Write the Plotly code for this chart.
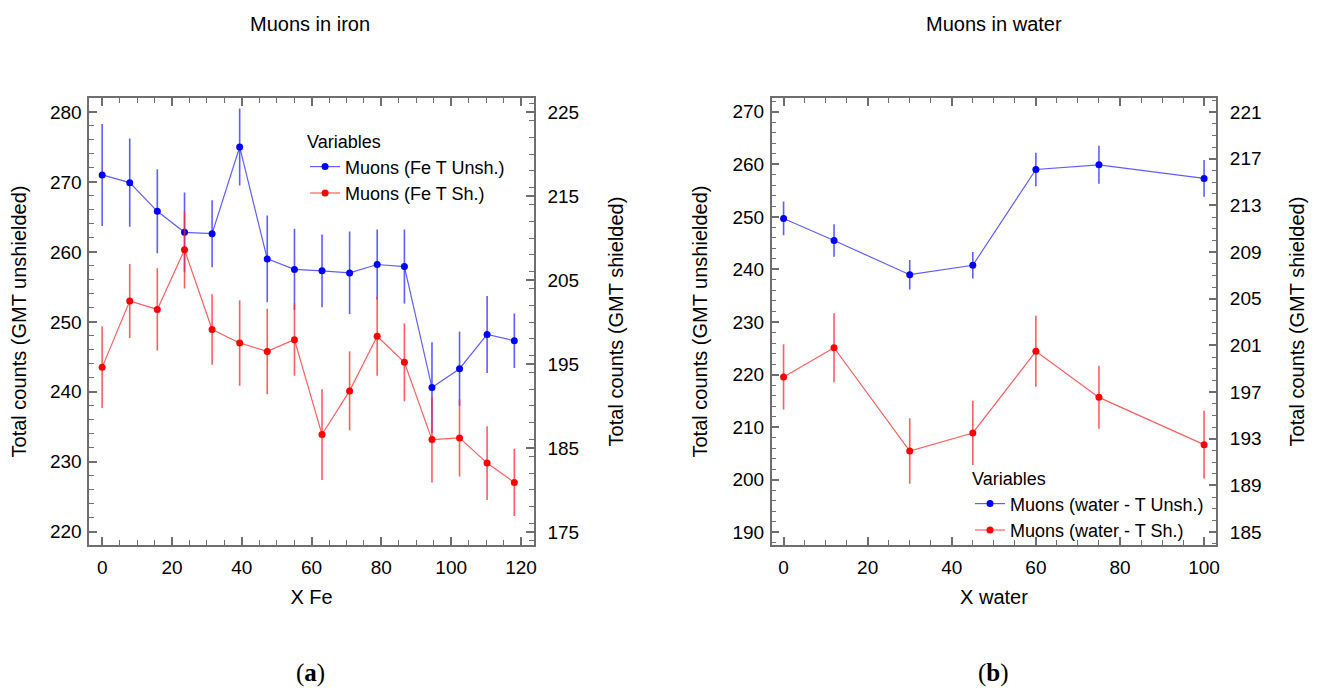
import plotly.graph_objects as go

# ---- data: Muons in iron ----
x_fe = [0, 7.9, 15.8, 23.6, 31.5, 39.4, 47.3, 55.1, 63.0, 70.9, 78.8, 86.6, 94.5, 102.4, 110.3, 118.1]
fe_unsh = [271.0, 269.9, 265.8, 262.8, 262.6, 275.0, 259.0, 257.5, 257.3, 257.0, 258.2, 257.9, 240.6, 243.3, 248.2, 247.3]
fe_unsh_err = [7.3, 6.3, 6.0, 5.7, 4.8, 5.5, 6.2, 5.8, 5.2, 5.9, 5.0, 5.3, 6.5, 5.3, 5.5, 3.9]
fe_sh = [194.6, 202.5, 201.5, 208.6, 199.1, 197.5, 196.5, 197.9, 186.6, 191.8, 198.3, 195.2, 186.0, 186.2, 183.2, 180.9]
fe_sh_err = [4.85, 4.4, 4.9, 4.6, 4.2, 5.1, 5.1, 4.3, 5.4, 4.7, 4.7, 4.65, 5.1, 4.6, 4.4, 4.0]

# ---- data: Muons in water ----
x_water = [0, 12, 30, 45, 60, 75, 100]
w_unsh = [249.7, 245.5, 239.0, 240.8, 259.0, 259.9, 257.3]
w_unsh_err = [3.2, 3.1, 2.8, 2.5, 3.2, 3.6, 3.5]
w_sh = [198.3, 200.8, 191.95, 193.5, 200.5, 196.55, 192.5]
w_sh_err = [2.8, 2.95, 2.8, 2.75, 3.05, 2.7, 2.9]

names = ["Muons (Fe T Unsh.)", "Muons (Fe T Sh.)", "Muons (water - T Unsh.)", "Muons (water - T Sh.)"]
titles = ["Muons in iron", "Muons in water"]
panel_labels = ["(<b>a</b>)", "(<b>b</b>)"]

FONT = "Liberation Sans"
BLUE = "rgb(0,0,255)"
RED = "rgb(255,0,0)"
BLUE_L = "rgba(40,40,255,0.75)"
RED_L = "rgba(255,40,40,0.75)"
AX = "#6e6e6e"

# page has an 8px body margin; figure sized to fit the 1317x695 window
OX, OY = 8, 8
W, H = 1301, 679


def px(x):
    return (x - OX) / W


def py(y):
    return 1 - (y - OY) / H


fig = go.Figure()


def add(x, y, e, name, col, lcol, xa, ya, leg):
    fig.add_trace(go.Scatter(
        x=x, y=y, name=name, mode="lines+markers",
        line=dict(color=lcol, width=1.2),
        marker=dict(color=col, size=7, symbol="circle"),
        error_y=dict(type="data", array=e, visible=True, color=lcol, thickness=1.6, width=0),
        xaxis=xa, yaxis=ya, legend=leg))


add(x_fe, fe_unsh, fe_unsh_err, names[0], BLUE, BLUE_L, "x", "y", "legend")
add(x_fe, fe_sh, fe_sh_err, names[1], RED, RED_L, "x", "y2", "legend")
add(x_water, w_unsh, w_unsh_err, names[2], BLUE, BLUE_L, "x2", "y3", "legend2")
add(x_water, w_sh, w_sh_err, names[3], RED, RED_L, "x2", "y4", "legend2")

dx1 = [px(89.5), px(535.5)]
dx2 = [px(774), px(1220)]
dy = [py(545), py(98)]

tickfont = dict(family=FONT, size=19, color="black")
titlefont = dict(family=FONT, size=20, color="black")


def xax(domain, rng, title, anchor):
    return dict(domain=domain, range=rng, anchor=anchor, showline=True, linecolor=AX, linewidth=1.5,
                mirror="ticks", ticks="inside", ticklen=8, tickwidth=1.5, tickcolor=AX,
                dtick=20, tick0=0, showgrid=False, zeroline=False, tickfont=tickfont,
                ticklabelstandoff=4,
                minor=dict(dtick=5, ticks="inside", ticklen=5, tickwidth=1.2, tickcolor=AX, showgrid=False),
                title=dict(text=title, font=titlefont, standoff=13))


def yax(domain, rng, dtick, tick0, mdt, title, anchor, side="left", overlay=None, standoff=18, tls=2):
    d = dict(domain=domain, range=rng, anchor=anchor, side=side, showline=True, linecolor=AX, linewidth=1.5,
             ticks="inside", ticklen=8, tickwidth=1.5, tickcolor=AX, dtick=dtick, tick0=tick0,
             showgrid=False, zeroline=False, tickfont=tickfont, ticklabelstandoff=tls,
             minor=dict(dtick=mdt, ticks="inside", ticklen=5, tickwidth=1.2, tickcolor=AX, showgrid=False),
             title=dict(text=title, font=titlefont, standoff=standoff))
    if overlay:
        d["overlaying"] = overlay
    return d


fig.update_layout(
    width=W, height=H,
    margin=dict(l=0, r=0, t=0, b=0),
    paper_bgcolor="white", plot_bgcolor="white",
    font=dict(family=FONT, size=18, color="black"),
    xaxis=xax(dx1, [-3.7, 123.7], "X Fe", "y"),
    yaxis=yax(dy, [218.1, 282.0], 10, 220, 2, "Total counts (GMT unshielded)", "x", standoff=19, tls=2),
    yaxis2=yax(dy, [173.45, 226.67], 10, 175, 2, "Total counts (GMT shielded)", "x", side="right",
               overlay="y", standoff=31, tls=8),
    xaxis2=xax(dx2, [-2.84, 102.9], "X water", "y3"),
    yaxis3=yax(dy, [187.6, 272.6], 10, 190, 2, "Total counts (GMT unshielded)", "x2", standoff=19, tls=2),
    yaxis4=yax(dy, [183.9, 222.2], 4, 185, 1, "Total counts (GMT shielded)", "x2", side="right",
               overlay="y3", standoff=29, tls=8),
    legend=dict(x=px(306), y=py(125), xanchor="left", yanchor="top",
                bgcolor="rgba(0,0,0,0)", font=dict(family=FONT, size=18),
                title=dict(text="Variables", font=dict(family=FONT, size=18)), tracegroupgap=0),
    legend2=dict(x=px(973), y=py(462), xanchor="left", yanchor="top",
                 bgcolor="rgba(0,0,0,0)", font=dict(family=FONT, size=18),
                 title=dict(text="Variables", font=dict(family=FONT, size=18)), tracegroupgap=0),
    showlegend=True,
)

for i, (cx, t) in enumerate(zip([311, 997], titles)):
    fig.add_annotation(x=px(cx), y=py(24), xref="paper", yref="paper", text=t,
                       xanchor="center", yanchor="middle",
                       showarrow=False, font=dict(family=FONT, size=20, color="black"))
    fig.add_annotation(x=px(cx), y=py(673), xref="paper", yref="paper", text=panel_labels[i],
                       xanchor="center", yanchor="middle",
                       showarrow=False, font=dict(family="Liberation Serif", size=25, color="black"))

fig.write_html("out.html")
